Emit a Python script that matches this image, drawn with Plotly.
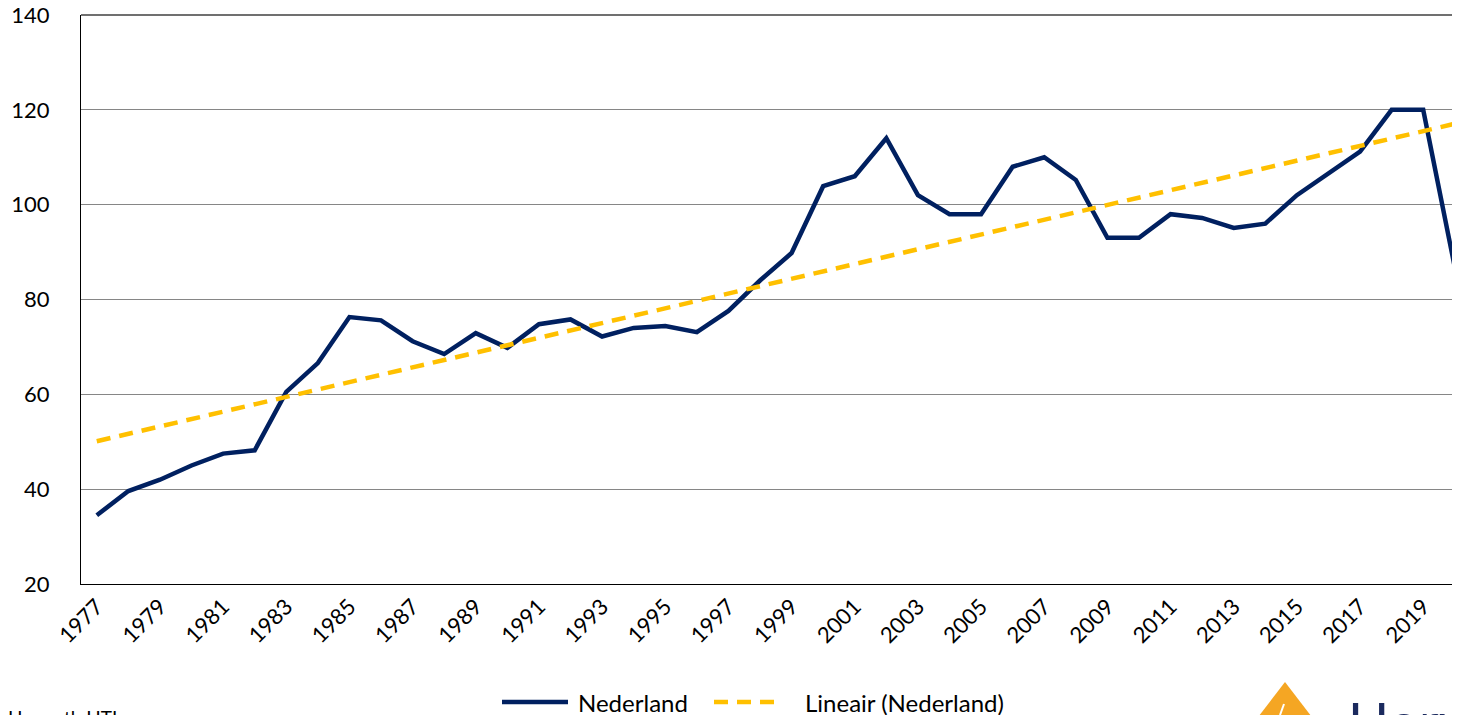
import numpy as np
import plotly.graph_objects as go

years = list(range(1977, 2021))
nederland = [34.5, 39.6, 42.0, 45.0, 47.5, 48.2, 60.5, 66.6, 76.3, 75.6,
             71.2, 68.5, 72.9, 69.8, 74.8, 75.8, 72.2, 74.0, 74.4, 73.1,
             77.6, 84.0, 89.8, 103.9, 106.0, 114.0, 102.0, 98.0, 98.0, 108.0,
             110.0, 105.2, 93.0, 93.0, 98.0, 97.2, 95.1, 96.0, 102.0, 106.6,
             111.2, 120.0, 120.0, 86.8]
tick_years = list(range(1977, 2021, 2))
y_ticks = [20, 40, 60, 80, 100, 120, 140]

series_name = "Nederland"
trend_name = "Lineair (Nederland)"
source_text = "Horwath HTL"
logo_text = "Horwath HTL"

# Excel-style linear trendline computed from the data
coef = np.polyfit(np.arange(len(years)), np.array(nederland), 1)
trend = list(np.polyval(coef, np.arange(len(years))))

NAVY = "#002060"
GOLD = "#FFC000"
FONT = "Lato"

OFF = 8  # page body margin offset
W, H = 1460 - OFF, 715 - OFF
# plot area in reference (page) pixels
L, T, B = 81, 15, 584
R = 1460
px_per_year = (1455 - 97) / 43.0
x0 = 1976.5
x1 = x0 + (R - L) / px_per_year


def pxx(px):
    return (px - L) / (R - L)


def pxy(py):
    return (B - py) / (B - T)


fig = go.Figure()
fig.add_trace(go.Scatter(x=years, y=nederland, mode="lines", name=series_name,
                         line=dict(color=NAVY, width=4.5), showlegend=False))
fig.add_trace(go.Scatter(x=years, y=trend, mode="lines", name=trend_name,
                         line=dict(color=GOLD, width=4.5, dash="14px,9px"),
                         showlegend=False))

fig.update_layout(
    width=W, height=H,
    margin=dict(l=L - OFF, r=0, t=T - OFF, b=(715 - B), pad=0, autoexpand=False),
    paper_bgcolor="white", plot_bgcolor="white",
    font=dict(family=FONT, size=22, color="black"),
    xaxis=dict(range=[x0, x1], tickvals=tick_years,
               ticktext=[str(y) for y in tick_years], tickangle=-45,
               showgrid=False, showline=True, linecolor="black", linewidth=1.3,
               ticks="", zeroline=False, tickfont=dict(size=22),
               ticklabeloverflow="allow", automargin=False),
    yaxis=dict(range=[20, 140], tickvals=y_ticks, showgrid=True,
               gridcolor="#868686", gridwidth=1.3, showline=True,
               linecolor="black", linewidth=1.3, ticks="", zeroline=False,
               tickfont=dict(size=22), ticklabelstandoff=26,
               ticklabeloverflow="allow", automargin=False),
)

shapes = []
# top border
shapes.append(dict(type="line", xref="paper", yref="paper", x0=0, x1=1,
                   y0=1, y1=1, line=dict(color="#404040", width=1.5)))
# legend samples
ly = pxy(702)
shapes.append(dict(type="line", xref="paper", yref="paper", x0=pxx(502), x1=pxx(568),
                   y0=ly, y1=ly, line=dict(color=NAVY, width=4.5)))
shapes.append(dict(type="line", xref="paper", yref="paper", x0=pxx(714), x1=pxx(774),
                   y0=ly, y1=ly, line=dict(color=GOLD, width=4.5, dash="14px,9px")))
# logo triangle
tri = "M {} {} L {} {} L {} {} Z".format(pxx(1285), pxy(682), pxx(1318), pxy(725),
                                          pxx(1252), pxy(725))
shapes.append(dict(type="path", xref="paper", yref="paper", path=tri,
                   fillcolor="#F5A623", line=dict(width=0)))
shapes.append(dict(type="line", xref="paper", yref="paper", x0=pxx(1280), x1=pxx(1284),
                   y0=pxy(715), y1=pxy(704), line=dict(color="white", width=2)))
fig.update_layout(shapes=shapes)

annotations = [
    dict(text=series_name, xref="paper", yref="paper", x=pxx(576), y=ly,
         xanchor="left", yanchor="middle", showarrow=False,
         font=dict(size=24, family=FONT, color="black")),
    dict(text=trend_name, xref="paper", yref="paper", x=pxx(803), y=ly,
         xanchor="left", yanchor="middle", showarrow=False,
         font=dict(size=24, family=FONT, color="black")),
    dict(text=source_text, xref="paper", yref="paper", x=pxx(OFF - 2), y=pxy(704),
         xanchor="left", yanchor="top", showarrow=False,
         font=dict(size=19, family=FONT, color="black")),
    dict(text=logo_text, xref="paper", yref="paper", x=pxx(1346), y=pxy(687),
         xanchor="left", yanchor="top", showarrow=False,
         font=dict(size=54, family=FONT, color="#1B2A5E")),
]
fig.update_layout(annotations=annotations)

fig.write_html("out.html")
